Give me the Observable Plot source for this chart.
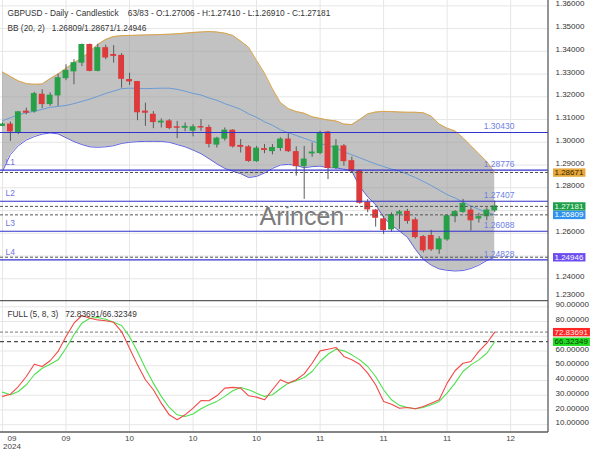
<!DOCTYPE html>
<html><head><meta charset="utf-8">
<script src="https://cdn.jsdelivr.net/npm/d3@7"></script>
<script src="https://cdn.jsdelivr.net/npm/@observablehq/plot@0.6"></script>
<style>
body{margin:0;background:#fff;}
#chart{position:relative;width:600px;height:450px;}
#chart svg{position:absolute;left:0;}
</style></head><body><div id="chart"></div>
<script>
// ---- data ----
const opens  = [1.3072,1.3078,1.3041,1.3135,1.3136,1.3209,1.3168,1.3206,1.3282,1.3312,1.3350,1.3428,1.3314,1.3414,1.3384,1.3380,1.3274,1.3265,1.3135,1.3121,1.3087,1.3092,1.3066,1.3064,1.3051,1.3067,1.3063,1.2990,1.3016,1.3051,1.2984,1.2978,1.2917,1.2970,1.2961,1.2975,1.3012,1.2957,1.2895,1.2951,1.2953,1.3043,1.2887,1.2982,1.2917,1.2873,1.2734,1.2700,1.2661,1.2617,1.2686,1.2694,1.2657,1.2583,1.2588,1.2529,1.2573,1.2675,1.2694,1.2700,1.2665,1.2675,1.27006];
const highs  = [1.3085,1.3089,1.3135,1.3150,1.3220,1.3231,1.3218,1.3300,1.3341,1.3363,1.3432,1.3432,1.3431,1.3427,1.3425,1.3390,1.3304,1.3268,1.3172,1.3135,1.3103,1.3100,1.3092,1.3085,1.3077,1.3100,1.3075,1.3022,1.3063,1.3055,1.3012,1.2985,1.2982,1.2990,1.2990,1.3020,1.3037,1.2980,1.2982,1.2997,1.3048,1.3048,1.3012,1.2990,1.2935,1.2878,1.2748,1.2705,1.2675,1.2690,1.2700,1.2705,1.2668,1.2590,1.2613,1.2585,1.2680,1.2700,1.2749,1.2712,1.2688,1.2712,1.27410];
const lows   = [1.3068,1.3004,1.3034,1.3121,1.3128,1.3148,1.3158,1.3158,1.3271,1.3253,1.3333,1.3310,1.3310,1.3363,1.3348,1.3238,1.3250,1.3095,1.3070,1.3060,1.3063,1.3055,1.3016,1.3047,1.3024,1.3048,1.2975,1.2975,1.3005,1.2975,1.2953,1.2912,1.2912,1.2950,1.2945,1.2960,1.2955,1.2851,1.2749,1.2934,1.2945,1.2836,1.2880,1.2895,1.2865,1.2728,1.2690,1.2627,1.2595,1.2605,1.2617,1.2640,1.2575,1.2514,1.2520,1.2507,1.2565,1.2646,1.2688,1.2610,1.2645,1.2655,1.26910];
const closes = [1.3078,1.3048,1.3132,1.3130,1.3212,1.3168,1.3205,1.3282,1.3314,1.3348,1.3428,1.3314,1.3414,1.3373,1.3380,1.3279,1.3268,1.3132,1.3130,1.3089,1.3091,1.3063,1.3064,1.3068,1.3066,1.3065,1.2993,1.3016,1.3051,1.2982,1.2980,1.2918,1.2972,1.2966,1.2975,1.3012,1.2961,1.2895,1.2924,1.2955,1.3041,1.2887,1.2982,1.2917,1.2873,1.2734,1.2705,1.2668,1.2614,1.2680,1.2692,1.2654,1.2583,1.2525,1.2529,1.2573,1.2675,1.2693,1.2729,1.2657,1.2671,1.2700,1.27181];

const bbUpper  = [1.3309,1.3289,1.3270,1.3258,1.3255,1.3256,1.3280,1.3300,1.3325,1.3350,1.3370,1.3398,1.3430,1.3452,1.3465,1.3469,1.3470,1.3471,1.3472,1.3473,1.3474,1.3475,1.3477,1.3480,1.3483,1.3485,1.3487,1.3485,1.3480,1.3470,1.3445,1.3418,1.3360,1.3304,1.3235,1.3175,1.3148,1.3135,1.3128,1.3112,1.3105,1.3098,1.3094,1.3080,1.3078,1.3100,1.3125,1.3133,1.3136,1.3135,1.3133,1.3132,1.3132,1.3130,1.3115,1.3080,1.3062,1.3050,1.3020,1.2985,1.2950,1.2915,1.28671];
const bbMiddle = [1.3095,1.3108,1.3121,1.3130,1.3136,1.3145,1.3154,1.3158,1.3162,1.3170,1.3180,1.3190,1.3202,1.3215,1.3225,1.3236,1.3238,1.3237,1.3236,1.3237,1.3238,1.3238,1.3233,1.3225,1.3215,1.3208,1.3195,1.3185,1.3170,1.3158,1.3145,1.3125,1.3110,1.3090,1.3075,1.3055,1.3042,1.3030,1.3018,1.3005,1.2995,1.2985,1.2975,1.2958,1.2945,1.2932,1.2918,1.2905,1.2893,1.2882,1.2873,1.2860,1.2845,1.2828,1.2810,1.2790,1.2770,1.2755,1.2737,1.2720,1.2705,1.2692,1.26809];
const bbLower  = [1.2873,1.2946,1.2985,1.3010,1.3025,1.3036,1.3041,1.3037,1.3020,1.3003,1.2990,1.2980,1.2978,1.2980,1.2985,1.2995,1.3000,1.3003,1.3004,1.3004,1.3004,1.3000,1.2990,1.2980,1.2966,1.2950,1.2928,1.2905,1.2885,1.2873,1.2862,1.2845,1.2850,1.2865,1.2885,1.2900,1.2903,1.2898,1.2888,1.2893,1.2895,1.2888,1.2887,1.2882,1.2873,1.2805,1.2760,1.2725,1.2670,1.2635,1.2610,1.2582,1.2530,1.2485,1.2460,1.2443,1.2437,1.2434,1.2436,1.2445,1.2460,1.2480,1.24946];

const stochK = [29.2,30.7,35.9,42.7,51.0,49.5,53.4,59.7,69.8,78.9,84.1,82.2,81.1,80.5,79.5,73.2,61.9,50.6,40.5,33.7,24.6,16.7,13.4,16.7,21.2,26.4,26.2,29.6,34.8,35.3,34.8,29.6,28.7,26.9,33.7,40.5,38.2,40.5,44.5,51.7,60.1,61.2,62.4,56.3,54.0,51.0,45.0,37.1,25.8,23.9,21.2,21.7,20.8,22.4,24.6,26.9,38.2,46.6,51.7,52.9,59.7,65.3,72.83691];
const stochD = [32.1,30.3,32.5,37.1,43.9,48.3,51.0,54.0,61.9,71.0,78.9,82.2,82.7,81.5,79.5,77.3,69.8,59.7,48.3,38.2,29.2,21.7,16.7,15.6,17.2,20.8,23.5,25.8,29.2,33.0,35.3,33.7,31.4,29.2,30.3,34.4,38.2,39.8,42.0,46.1,52.9,57.8,61.2,60.1,57.4,54.0,49.5,42.7,33.7,26.9,23.1,21.7,20.8,21.7,23.5,25.8,31.4,38.2,46.1,50.6,54.0,58.5,66.32349];

const levelValues = [1.30430, 1.28776, 1.27407, 1.26088, 1.24828];
const levelNames  = ["", "L1", "L2", "L3", "L4"];
const dashValues  = [1.28671, 1.27181, 1.26809, 1.24946];

const priceGrid   = [1.23,1.24,1.25,1.26,1.27,1.28,1.29,1.30,1.31,1.32,1.33,1.34,1.35,1.36];
const priceLabels = [1.24,1.26,1.28,1.29,1.30,1.31,1.32,1.33,1.34,1.35,1.36];
const priceLabelLow = [1.23];
const oscGrid   = [10,20,30,40,50,60,70,80,90];
const oscLabels = [10,20,30,40,50,60,80,90];

const timeTickIdx    = [0,8,16,24,32,40,48,56,64];
const timeTickLabels = ["09\n2024","09","10","10","10","11","11","11","12"];

const priceBoxValues = [1.28671, 1.27181, 1.26809, 1.24946];
const priceBoxFills  = ["#e6a83a", "#1f9d4a", "#2f93ee", "#6c4cf0"];
const priceBoxInk    = ["#3a2600", "#e8ffe8", "#ffffff", "#ffffff"];
const oscBoxValues = [72.83691, 66.32349];
const oscBoxFills  = ["#ff2626", "#22dd22"];
const oscBoxInk    = ["#ffe8e8", "#0a3a0a"];

const headerLine1 = "GBPUSD - Daily - Candlestick\u00a0\u00a0\u00a0\u00a063/83 - O:1.27006 - H:1.27410 - L:1.26910 - C:1.27181";
const headerLine2 = "BB (20, 2)\u00a0\u00a0\u00a01.26809/1.28671/1.24946";
const oscHeader   = "FULL (5, 8, 3)\u00a0\u00a0\u00a072.83691/66.32349";
const watermark   = "Arincen";

// ---- derived tables ----
const N = opens.length;
const idx = d3.range(N);
const candles = idx.map(i => ({i, o: opens[i], h: highs[i], l: lows[i], c: closes[i]}));
const up = "#27a048", down = "#dd3b3b";
const font = "'Liberation Sans', Arial, sans-serif";
const xDomain = [-0.252, 68.77];
const gridColor = "#e6e6e6";
const tickK = d3.range(timeTickIdx.length);

const topPlot = Plot.plot({
  width: 600, height: 300,
  marginLeft: 0, marginRight: 52, marginTop: 0, marginBottom: 0,
  x: {domain: xDomain, axis: null},
  y: {domain: [1.23043, 1.36236], axis: null},
  color: {type: "identity"},
  style: {fontFamily: font, fontSize: "8px", background: "transparent"},
  marks: [
    Plot.ruleY(priceGrid, {stroke: gridColor}),
    Plot.ruleX(timeTickIdx, {stroke: gridColor}),
    Plot.areaY(idx, {x: i => i, y1: i => bbLower[i], y2: i => bbUpper[i], fill: "#9a9a9a", fillOpacity: 0.6}),
    Plot.lineY(idx, {x: i => i, y: i => bbUpper[i], stroke: "#dea444", strokeWidth: 1}),
    Plot.lineY(idx, {x: i => i, y: i => bbLower[i], stroke: "#6262e0", strokeWidth: 1}),
    Plot.lineY(idx, {x: i => i, y: i => bbMiddle[i], stroke: "#6b9bd6", strokeWidth: 1}),
    Plot.ruleX(candles, {x: "i", y1: "l", y2: "h", stroke: "#5a5a5a", strokeWidth: 1}),
    Plot.rect(candles, {x1: d => d.i - 0.37, x2: d => d.i + 0.37, y1: "o", y2: "c",
      insetTop: -0.5, insetBottom: -0.5, fill: d => d.c >= d.o ? up : down}),
    Plot.ruleY(dashValues, {stroke: "#555", strokeDasharray: "3,2"}),
    Plot.ruleY(levelValues, {stroke: "#3232cc", strokeWidth: 1.2}),
    Plot.text(levelValues, {y: d => d, text: d => d.toFixed(5), frameAnchor: "right", dx: -34, dy: -6,
      textAnchor: "end", fill: "#6f7fe6", fontSize: 8.5}),
    Plot.text(d3.range(levelValues.length), {y: k => levelValues[k], text: k => levelNames[k], frameAnchor: "left",
      dx: 5, dy: -8, textAnchor: "start", fill: "#7272e0", fontSize: 8.5}),
    Plot.text([watermark], {frameAnchor: "bottom-left", dx: 259, dy: -76, textAnchor: "start",
      text: d => d, fontSize: 25, fill: "#7c7c7c"}),
    Plot.text([headerLine1], {frameAnchor: "top-left", dx: 7, dy: 10, textAnchor: "start", text: d => d, fill: "#333", fontSize: 8.3}),
    Plot.text([headerLine2], {frameAnchor: "top-left", dx: 7, dy: 25, textAnchor: "start", text: d => d, fill: "#333", fontSize: 8.3}),
    Plot.text(priceLabels, {y: d => d, text: d => d.toFixed(5), frameAnchor: "right", dx: 7, dy: -2, textAnchor: "start", fill: "#333"}),
    Plot.text(priceLabelLow, {y: d => d, text: d => d.toFixed(5), frameAnchor: "right", dx: 7, dy: -7.5, textAnchor: "start", fill: "#333"}),
    Plot.text(priceBoxValues, {y: d => d, text: d => d.toFixed(5), frameAnchor: "right", dx: 6, textAnchor: "start",
      fill: (d, k) => priceBoxInk[k]})
  ]
});

const botPlot = Plot.plot({
  width: 600, height: 150,
  marginLeft: 0, marginRight: 52, marginTop: 1, marginBottom: 18,
  x: {domain: xDomain, axis: null},
  y: {domain: [4.7, 93.6], axis: null},
  color: {type: "identity"},
  style: {fontFamily: font, fontSize: "8px", background: "transparent"},
  marks: [
    Plot.ruleY(oscGrid, {stroke: gridColor}),
    Plot.ruleX(timeTickIdx, {stroke: gridColor}),
    Plot.ruleY([oscBoxValues[0]], {stroke: "#777", strokeDasharray: "3,2"}),
    Plot.ruleY([oscBoxValues[1]], {stroke: "#222", strokeDasharray: "4,3"}),
    Plot.lineY(idx, {x: i => i, y: i => stochD[i], stroke: "#4ee04e", strokeWidth: 1.1}),
    Plot.lineY(idx, {x: i => i, y: i => stochK[i], stroke: "#f24848", strokeWidth: 1.1}),
    Plot.text([oscHeader], {frameAnchor: "top-left", dx: 7, dy: 10, textAnchor: "start", text: d => d, fill: "#333", fontSize: 8.3}),
    Plot.text(oscLabels, {y: d => d, text: d => d.toFixed(5), frameAnchor: "right", dx: 7, dy: -2, textAnchor: "start", fill: "#333"}),
    Plot.text(tickK.slice(0, 1), {x: k => timeTickIdx[k], text: k => timeTickLabels[k], frameAnchor: "bottom",
      dx: 9.5, dy: 3, lineAnchor: "top", fill: "#444"}),
    Plot.text(tickK.slice(1), {x: k => timeTickIdx[k], text: k => timeTickLabels[k], frameAnchor: "bottom",
      dy: 3, lineAnchor: "top", fill: "#444"}),
    Plot.text(oscBoxValues, {y: d => d, text: d => d.toFixed(5), frameAnchor: "right", dx: 6, textAnchor: "start",
      fill: (d, k) => oscBoxInk[k]})
  ]
});

const chart = document.getElementById("chart");
topPlot.style.top = "0px";
botPlot.style.top = "300px";
chart.appendChild(topPlot);
chart.appendChild(botPlot);

const ns = "http://www.w3.org/2000/svg";
// coloured value boxes behind the current-value labels on the right axis
function addBoxes(svg, values, fills) {
  const labels = values.map(v => v.toFixed(5));
  svg.querySelectorAll("text").forEach(t => {
    const k = labels.indexOf(t.textContent.trim());
    if (k < 0) return;
    const b = t.getBBox();
    const r = document.createElementNS(ns, "rect");
    r.setAttribute("x", b.x - 1.5);
    r.setAttribute("y", b.y + 0.3);
    r.setAttribute("width", b.width + 3);
    r.setAttribute("height", b.height - 0.6);
    r.setAttribute("fill", fills[k]);
    const tr = t.getAttribute("transform");
    if (tr) r.setAttribute("transform", tr);
    t.parentNode.insertBefore(r, t);
  });
}
addBoxes(topPlot, priceBoxValues, priceBoxFills);
addBoxes(botPlot, oscBoxValues, oscBoxFills);

// panel chrome: right axis line, panel separator and bottom border
function line(svg, x1, y1, x2, y2) {
  const l = document.createElementNS(ns, "line");
  l.setAttribute("x1", x1); l.setAttribute("y1", y1); l.setAttribute("x2", x2); l.setAttribute("y2", y2);
  l.setAttribute("stroke", "#5c5c5c"); l.setAttribute("stroke-width", 1.3);
  svg.appendChild(l);
}
line(topPlot, 548, 0, 548, 300);
line(botPlot, 548, 0, 548, 132);
line(botPlot, 0, 0.5, 548, 0.5);
line(botPlot, 0, 132, 548, 132);
</script></body></html>
